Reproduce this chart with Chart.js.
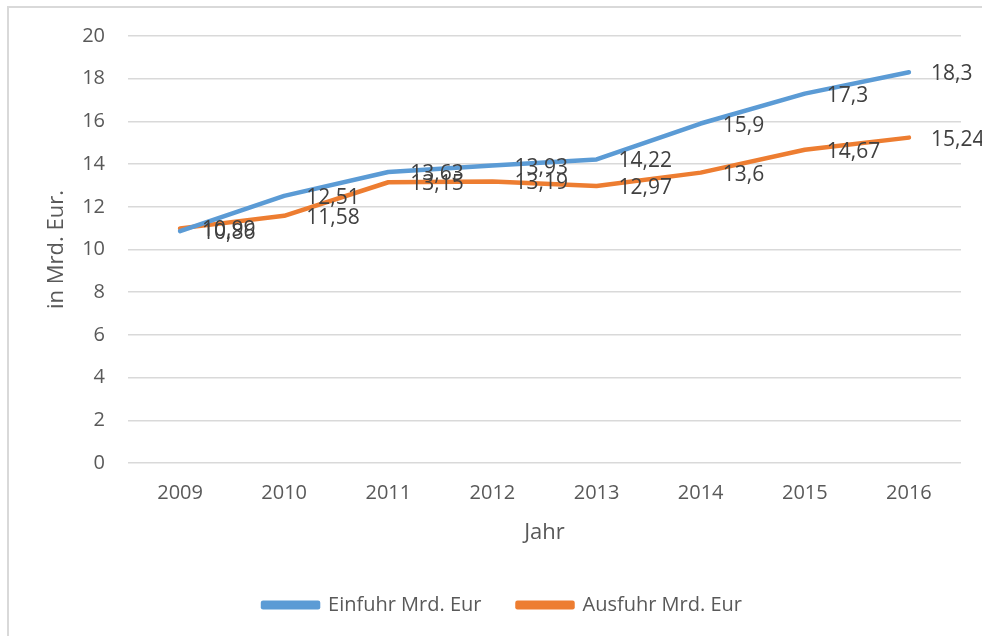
<!DOCTYPE html>
<html lang="de">
<head>
    <meta charset="UTF-8">
    <title>Einfuhr und Ausfuhr</title>
    <script src="https://cdn.jsdelivr.net/npm/chart.js"></script>
    <style>
        body {
            margin: 0;
            overflow: hidden;
            background: #ffffff;
        }
        #wrap {
            position: relative;
            width: 982px;
            height: 636px;
            overflow: hidden;
        }
        #frame {
            position: absolute;
            left: 7px;
            top: 6px;
            width: 1000px;
            height: 700px;
            border: 2px solid #d9d9d9;
        }
        #tradeChart {
            position: absolute;
            left: 0;
            top: 0;
        }
    </style>
</head>
<body>
    <div id="wrap">
        <div id="frame"></div>
        <canvas id="tradeChart" width="982" height="636"></canvas>
    </div>

    <script>
        const years = ['2009', '2010', '2011', '2012', '2013', '2014', '2015', '2016'];
        const einfuhr = [10.86, 12.51, 13.63, 13.93, 14.22, 15.9, 17.3, 18.3];
        const ausfuhr = [10.99, 11.58, 13.15, 13.19, 12.97, 13.6, 14.67, 15.24];

        const fontFamily = '"Open Sans", sans-serif';

        // Excel-artige Datenbeschriftung rechts vom Punkt
        const valueLabels = {
            id: 'valueLabels',
            afterDatasetsDraw(chart) {
                const c = chart.ctx;
                c.save();
                c.font = '21px ' + fontFamily;
                c.fillStyle = '#404040';
                c.textAlign = 'left';
                c.textBaseline = 'middle';
                chart.data.datasets.forEach((ds, i) => {
                    const meta = chart.getDatasetMeta(i);
                    meta.data.forEach((pt, j) => {
                        const txt = String(ds.data[j]).replace('.', ',');
                        c.fillText(txt, pt.x + 22, pt.y + 2);
                    });
                });
                c.restore();
            }
        };

        // Legende etwas nach rechts (Chart.js zählt das letzte Padding mit)
        const legendShift = {
            id: 'legendShift',
            afterLayout(chart) {
                chart.legend.left += 18;
                chart.legend.right += 18;
            }
        };

        const ctx = document.getElementById('tradeChart').getContext('2d');

        new Chart(ctx, {
            type: 'line',
            data: {
                labels: years,
                datasets: [
                    {
                        label: 'Einfuhr Mrd. Eur',
                        data: einfuhr,
                        borderColor: '#5b9bd5',
                        backgroundColor: '#5b9bd5',
                        borderWidth: 4.5,
                        borderCapStyle: 'round',
                        borderJoinStyle: 'round',
                        pointRadius: 0,
                        tension: 0
                    },
                    {
                        label: 'Ausfuhr Mrd. Eur',
                        data: ausfuhr,
                        borderColor: '#ed7d31',
                        backgroundColor: '#ed7d31',
                        borderWidth: 4.5,
                        borderCapStyle: 'round',
                        borderJoinStyle: 'round',
                        pointRadius: 0,
                        tension: 0
                    }
                ]
            },
            options: {
                responsive: false,
                animation: false,
                layout: {
                    padding: { left: 8, top: 36, right: 21, bottom: 11 }
                },
                scales: {
                    x: {
                        offset: true,
                        grid: { display: false },
                        border: { display: false },
                        ticks: {
                            color: '#595959',
                            padding: 10,
                            font: { family: fontFamily, size: 20 }
                        },
                        title: {
                            display: true,
                            text: 'Jahr',
                            color: '#595959',
                            padding: { top: 0, bottom: 13 },
                            font: { family: fontFamily, size: 22 }
                        },
                        afterFit: (scale) => { scale.height = 96; }
                    },
                    y: {
                        min: 0,
                        max: 20,
                        grid: {
                            color: '#d9d9d9',
                            lineWidth: 1.5,
                            drawTicks: false
                        },
                        border: { display: false },
                        ticks: {
                            stepSize: 2,
                            color: '#595959',
                            padding: 23,
                            font: { family: fontFamily, size: 20 }
                        },
                        title: {
                            display: true,
                            text: 'in Mrd. Eur.',
                            color: '#595959',
                            padding: { top: 36, bottom: 0 },
                            font: { family: fontFamily, size: 22 }
                        },
                        afterFit: (scale) => { scale.width = 120; }
                    }
                },
                plugins: {
                    legend: {
                        position: 'bottom',
                        labels: {
                            boxWidth: 55,
                            boxHeight: 4.5,
                            padding: 36,
                            color: '#595959',
                            font: { family: fontFamily, size: 20 }
                        }
                    },
                    tooltip: { enabled: false }
                }
            },
            plugins: [valueLabels, legendShift]
        });
    </script>
</body>
</html>
